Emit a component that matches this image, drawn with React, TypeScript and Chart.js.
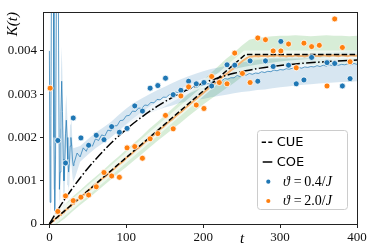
import React, { useEffect, useRef } from 'react';
import { Chart, registerables } from 'chart.js';
Chart.register(...registerables);

// All K values are in units of 1e-3
const xTicks = [0, 100, 200, 300, 400];
const yTicks = [0, 1, 2, 3, 4];

const tEarly = [0,1,2,3,4,5,6,7,8,9,10,11,12,13,14,15,16,17,18,19,20,21,22,23,24,25,26,27,28,29,30,31];
const tLate = [
  32,36,40,44,48,52,56,60,64,68,
  72,76,80,84,88,92,96,100,104,108,
  112,116,120,124,128,132,136,140,144,148,
  152,156,160,164,168,172,176,180,184,188,
  192,196,200,204,208,212,216,220,224,228,
  232,236,240,244,248,252,256,260,264,268,
  272,276,280,284,288,292,296,300,304,308,
  312,316,320,324,328,332,336,340,344,348,
  352,356,360,364,368,372,376,380,384,388,
  392,396,400];

const blueMeanEarly = [4.0,0.5,2.5,7.0,9.5,7.0,2.0,0.3,1.5,5.0, 7.5,8.0,4.0,0.8,1.2,2.6,3.3,2.6,1.5,1.0, 1.4,2.1,2.4,2.0,1.5,1.2,1.4,1.8,2.0,1.8, 1.5,1.35];
const blueMeanLate = [
  1.40,1.64,1.55,1.76,1.68,1.86,1.80,1.97,1.93,2.06,
  2.03,2.17,2.15,2.27,2.27,2.39,2.40,2.50,2.51,2.61,
  2.60,2.68,2.67,2.75,2.74,2.81,2.80,2.88,2.87,2.93,
  2.93,2.99,2.99,3.05,3.04,3.10,3.09,3.13,3.13,3.18,
  3.16,3.22,3.20,3.24,3.24,3.29,3.27,3.31,3.31,3.36,
  3.35,3.38,3.38,3.43,3.41,3.45,3.44,3.48,3.46,3.49,
  3.48,3.52,3.50,3.53,3.52,3.56,3.54,3.57,3.56,3.59,
  3.58,3.60,3.59,3.62,3.60,3.63,3.62,3.64,3.63,3.66,
  3.64,3.67,3.65,3.68,3.66,3.68,3.67,3.69,3.68,3.70,
  3.68,3.71,3.69];

const orangeMeanEarly = [0,.02,.03,.05,.06,.08,.09,.11,.12,.14, .15,.17,.18,.20,.21,.23,.24,.26,.27,.29, .30,.32,.33,.35,.36,.38,.40,.41,.43,.44, .46,.47];
const orangeMeanLate = [
  .49,.54,.61,.66,.74,.79,.85,.92,.97,1.04,
  1.09,1.15,1.22,1.27,1.34,1.40,1.45,1.53,1.58,1.64,
  1.71,1.76,1.82,1.89,1.94,2.01,2.06,2.13,2.19,2.24,
  2.31,2.37,2.42,2.49,2.55,2.60,2.67,2.73,2.79,2.85,
  2.91,2.97,3.03,3.09,3.15,3.21,3.26,3.32,3.38,3.44,
  3.49,3.55,3.60,3.66,3.72,3.78,3.83,3.86,3.87,3.88,
  3.87,3.89,3.88,3.87,3.89,3.88,3.90,3.88,3.89,3.87,
  3.89,3.88,3.90,3.88,3.89,3.87,3.89,3.90,3.88,3.89,
  3.88,3.90,3.89,3.88,3.90,3.89,3.88,3.90,3.89,3.88,
  3.90,3.89,3.89];

const blueBandT = [0,1,2,3,4,5,6,7,8,9,10,11,12,13,14,15,16,17,18,19,20,21,22,23,24,25,26,27,28,29,30,31,
  40,50,60,70,80,90,100,110,120,130, 140,150,160,170,180,190,200,210,220,230,
  240,250,260,270,280,290,300,310,320,330, 340,350,360,370,380,390,400];
const blueUpper = [5.2,1.8,3.8,8.2,10.8,8.2,3.2,1.5,2.7,6.2, 8.6,9.0,5.0,1.9,2.2,3.5,4.1,3.4,2.3,1.8, 2.1,2.7,3.0,2.6,2.1,1.7,1.9,2.3,2.5,2.3, 1.9,1.75,
  1.80,1.96,2.11,2.23,2.36,2.52,2.67,2.80,2.90,3.00,
  3.09,3.17,3.26,3.34,3.41,3.47,3.53,3.58,3.62,3.66,
  3.69,3.73,3.76,3.79,3.81,3.84,3.86,3.88,3.90,3.92,
  3.93,3.95,3.96,3.97,3.98,3.99,4.00];
const blueLower = [2.8,0.0,1.2,5.8,8.2,5.8,0.8,0.0,0.3,3.8, 6.4,7.0,3.0,0.0,0.2,1.7,2.5,1.8,0.7,0.2, 0.7,1.5,1.8,1.4,0.9,0.7,0.9,1.3,1.5,1.3, 1.1,0.95,
  1.44,1.60,1.75,1.87,2.00,2.14,2.29,2.40,2.48,2.56,
  2.63,2.69,2.74,2.80,2.83,2.87,2.89,2.93,2.96,2.99,
  3.02,3.05,3.07,3.10,3.11,3.14,3.16,3.18,3.20,3.22,
  3.23,3.25,3.26,3.27,3.28,3.29,3.30];

const greenBandT = [0,10,20,30,40,50,60,70,80,90, 100,110,120,130,140,150,160,170,180,190, 200,210,220,230,240,250,260,270,280,290, 300,310,320,330,340,350,360,370,380,390, 400];
const greenUpper = [.08,.32,.47,.63,.78,.94,1.09,1.24,1.41,1.56, 1.72,1.87,2.03,2.20,2.35,2.51,2.67,2.83,3.00,3.16, 3.32,3.49,3.65,3.82,3.96,4.12,4.26,4.30,4.32,4.34, 4.35,4.35,4.36,4.35,4.34,4.35,4.36,4.35,4.35,4.34, 4.35];
const greenLower = [0,0,.13,.29,.44,.58,.73,.88,1.03,1.18, 1.32,1.47,1.61,1.76,1.91,2.05,2.19,2.33,2.48,2.62, 2.76,2.89,3.01,3.14,3.26,3.40,3.52,3.60,3.64,3.66, 3.66,3.67,3.67,3.68,3.68,3.68,3.69,3.69,3.69,3.70, 3.70];

const cueT = [0, 255, 400];
const cueK = [0, 3.92, 3.92];
const coeT = [0,10,20,40,60,80,100,120,140,160,180,200,220,240,255,280,320,360,400];
const coeK = [0,.297,.572,1.065,1.493,1.866,2.190,2.472,2.716,2.927,3.106,3.257,3.382,3.482,3.542,3.618,3.700,3.752,3.788];

const blueDotT = [11,21,31,41,51,61,71,81,91,101,111,121,131,141,151,161,171,181,191,201,211,231,241,261,271,281,291,301,311,321,331,341,361,371,381,391];
const blueDotK = [1.93,1.41,2.45,1.99,1.82,2.05,1.95,2.25,2.12,2.21, 2.73,2.61,3.14,3.20,3.37,2.99,3.09,3.30,3.24,3.27, 3.19,3.68,3.67,3.77,3.30,3.77,3.64,4.22,3.67,3.24, 3.33,3.85,3.73,3.71,3.19,3.36];
const orangeDotT = [1,11,21,31,41,51,61,71,81,91,101,111,121,131,141,151,161,171,181,191,201,211,221,231,241,251,261,271,281,291,301,311,321,331,341,351,361,371,381,391];
const orangeDotK = [3.14,0.29,0.65,0.54,0.62,0.67,0.86,1.19,1.11,1.08, 1.76,1.79,1.52,1.97,2.09,2.51,2.20,2.96,3.17,2.75, 2.67,3.41,3.27,3.24,3.95,3.48,3.27,4.30,4.26,4.00, 4.00,4.16,3.61,4.18,4.10,4.13,3.19,4.74,4.08,3.75];

const labels = ['CUE', 'COE', 'ϑ = 0.4/J', 'ϑ = 2.0/J'];

const BLUE = '#1f77b4';
const ORANGE = '#ff7f0e';
const SERIF = "'Liberation Serif', 'DejaVu Serif', serif";
const SANS = "'DejaVu Sans', sans-serif";
const CUE_DASH = [5.5, 2.4];
const COE_DASH = [9.6, 2.4, 1.5, 2.4];

const pts = (xs: number[], ys: number[]) => xs.map((x, i) => ({ x, y: ys[i] }));

const overlayPlugin = {
  id: 'overlay',
  afterDatasetsDraw(chart: any) {
    const { ctx, chartArea: a } = chart;
    ctx.save();
    ctx.strokeStyle = '#222';
    ctx.lineWidth = 1;
    ctx.strokeRect(a.left - 0.5, a.top + 0.5, a.right - a.left + 1, a.bottom - a.top);
    ctx.restore();
  },
  afterDraw(chart: any) {
    const { ctx, chartArea: a } = chart;
    ctx.save();
    ctx.fillStyle = '#000';
    ctx.font = `italic 15px ${SERIF}`;
    ctx.textAlign = 'center';
    ctx.textBaseline = 'middle';
    ctx.fillText('t', a.left + 0.633 * (a.right - a.left), a.bottom + 15);

    const w = 90, h = 79;
    const bx = a.right - 100, by = a.bottom - 94;
    ctx.beginPath();
    (ctx as any).roundRect(bx + 0.5, by + 0.5, w, h, 3);
    ctx.fillStyle = 'rgba(255,255,255,0.85)';
    ctx.fill();
    ctx.strokeStyle = '#cccccc';
    ctx.lineWidth = 1;
    ctx.stroke();

    const rows = [by + 12.3, by + 32, by + 51.7, by + 71];
    const hx0 = bx + 4.7, hx1 = bx + 15.3;
    ctx.strokeStyle = '#000';
    ctx.lineWidth = 1.5;
    ctx.setLineDash([4.3, 2.3]);
    ctx.beginPath(); ctx.moveTo(hx0, rows[0]); ctx.lineTo(hx1, rows[0]); ctx.stroke();
    ctx.setLineDash(COE_DASH);
    ctx.beginPath(); ctx.moveTo(hx0 + 1, rows[1]); ctx.lineTo(hx1, rows[1]); ctx.stroke();
    ctx.setLineDash([]);
    [BLUE, ORANGE].forEach((c, i) => {
      ctx.beginPath();
      ctx.arc(bx + 11.3, rows[2 + i], 2.1, 0, Math.PI * 2);
      ctx.fillStyle = c;
      ctx.fill();
    });
    ctx.fillStyle = '#000';
    ctx.textAlign = 'left';
    ctx.font = `13px ${SANS}`;
    ctx.fillText(labels[0], bx + 19.7, rows[0] + 0.5);
    ctx.fillText(labels[1], bx + 19.7, rows[1] + 0.5);
    [2, 3].forEach((k) => {
      const lab = labels[k];
      const parts = [
        { s: lab.slice(0, 1), it: true, gap: 4 },
        { s: '=', it: false, gap: 2.5 },
        { s: lab.slice(4, lab.length - 1), it: false, gap: 0 },
        { s: lab.slice(lab.length - 1), it: true, gap: 0 },
      ];
      let x = bx + 26;
      parts.forEach((p) => {
        ctx.font = `${p.it ? 'italic ' : ''}14px ${SERIF}`;
        ctx.fillText(p.s, x, rows[k] + 0.5);
        x += ctx.measureText(p.s).width + p.gap;
      });
    });
    ctx.restore();
  },
};

export default function App() {
  const ref = useRef<HTMLCanvasElement>(null);
  useEffect(() => {
    const tGrid = [...tEarly, ...tLate];
    const blueMean = [...blueMeanEarly, ...blueMeanLate];
    const orangeMean = [...orangeMeanEarly, ...orangeMeanLate];
    const none = 'rgba(0,0,0,0)';
    const line = (extra: any) => ({
      type: 'line', pointRadius: 0, tension: 0, fill: false, borderWidth: 1, ...extra,
    });
    const chart = new Chart(ref.current as HTMLCanvasElement, {
      type: 'line',
      data: {
        datasets: [
          line({ label: 'g+', data: pts(greenBandT, greenUpper), fill: '+1', backgroundColor: 'rgba(44,160,44,0.19)', borderColor: none, borderWidth: 0, order: 12 }),
          line({ label: 'g-', data: pts(greenBandT, greenLower), borderColor: none, borderWidth: 0, order: 12 }),
          line({ label: 'b+', data: pts(blueBandT, blueUpper), fill: '+1', backgroundColor: 'rgba(31,119,180,0.18)', borderColor: none, borderWidth: 0, order: 11 }),
          line({ label: 'b-', data: pts(blueBandT, blueLower), borderColor: none, borderWidth: 0, order: 11 }),
          line({ label: 'cueW', data: pts(cueT, cueK), borderColor: 'rgba(255,255,255,0.6)', borderWidth: 8, order: 9 }),
          line({ label: 'coeW', data: pts(coeT, coeK), borderColor: 'rgba(255,255,255,0.6)', borderWidth: 8, cubicInterpolationMode: 'monotone', order: 9 }),
          line({ label: 'blueMean', data: pts(tGrid, blueMean), borderColor: 'rgba(31,119,180,0.7)', borderWidth: 1, order: 7 }),
          line({ label: 'orangeMean', data: pts(tGrid, orangeMean), borderColor: 'rgba(255,127,14,0.55)', borderWidth: 2, order: 7 }),
          line({ label: labels[1], data: pts(coeT, coeK), borderColor: '#000', borderWidth: 1.5, borderDash: COE_DASH, cubicInterpolationMode: 'monotone', order: 5 }),
          line({ label: labels[0], data: pts(cueT, cueK), borderColor: '#000', borderWidth: 1.5, borderDash: CUE_DASH, order: 5 }),
          line({ label: labels[2], data: pts(blueDotT, blueDotK), showLine: false, pointRadius: 3, pointBackgroundColor: BLUE, pointBorderColor: '#fff', pointBorderWidth: 0.8, order: 2 }),
          line({ label: labels[3], data: pts(orangeDotT, orangeDotK), showLine: false, pointRadius: 3, pointBackgroundColor: ORANGE, pointBorderColor: '#fff', pointBorderWidth: 0.8, order: 1 }),
        ] as any,
      },
      options: {
        responsive: false,
        animation: false,
        devicePixelRatio: 1,
        layout: { padding: { left: 0, right: 16, top: 12, bottom: 0 } },
        plugins: { legend: { display: false }, tooltip: { enabled: false } },
        scales: {
          x: {
            type: 'linear', min: -7, max: 400,
            afterBuildTicks: (s: any) => { s.ticks = xTicks.map((v) => ({ value: v })); },
            afterFit: (s: any) => { s.height = 25; },
            ticks: { autoSkip: false, maxRotation: 0, padding: 2, color: '#111', font: { family: SERIF, size: 13 }, callback: (v: any) => String(v) },
            grid: { display: true, drawOnChartArea: false, drawTicks: true, tickLength: 4, tickColor: '#222', tickWidth: 1 },
            border: { display: false },
          },
          y: {
            type: 'linear', min: 0, max: 4.9,
            afterBuildTicks: (s: any) => { s.ticks = yTicks.map((v) => ({ value: v })); },
            afterFit: (s: any) => { s.width = 44; },
            ticks: { autoSkip: false, padding: 3, color: '#111', font: { family: SERIF, size: 13 }, callback: (v: any) => (v === 0 ? '0' : (v / 1000).toFixed(3)) },
            grid: { display: true, drawOnChartArea: false, drawTicks: true, tickLength: 4, tickColor: '#222', tickWidth: 1 },
            border: { display: false },
            title: { display: true, text: 'K(t)', align: 'end', color: '#000', padding: { top: 4, bottom: 0 }, font: { family: SERIF, size: 15, style: 'italic' } },
          },
        },
      } as any,
      plugins: [overlayPlugin],
    });
    return () => chart.destroy();
  }, []);
  return (
    <div style={{ position: 'fixed', left: 0, top: 0, width: 373, height: 249, background: '#fff' }}>
      <canvas ref={ref} width={373} height={249} style={{ display: 'block', width: 373, height: 249 }} />
    </div>
  );
}
